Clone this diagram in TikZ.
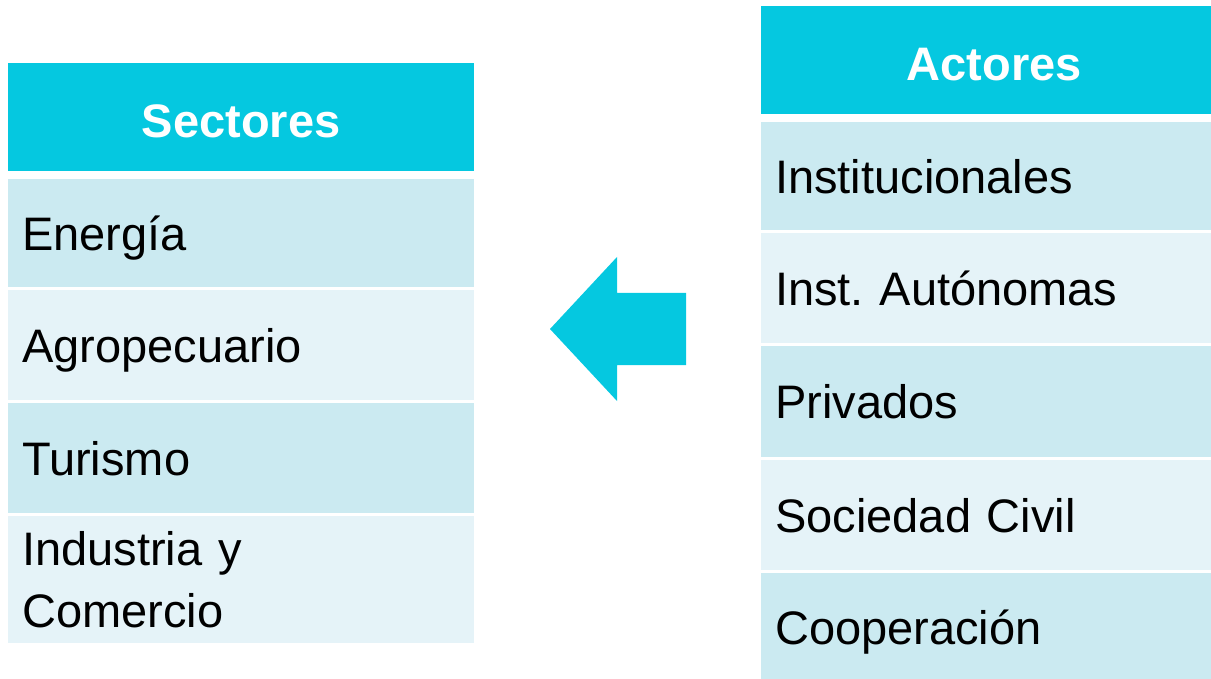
\documentclass[tikz,border=0pt]{standalone}
\usepackage{fontspec}
\setmainfont{Liberation Sans}
\usepackage{tikz}
\definecolor{cabeza}{RGB}{5,200,224}
\definecolor{filaosc}{RGB}{203,234,241}
\definecolor{filacla}{RGB}{229,243,248}
\frenchspacing

\begin{document}
\begin{tikzpicture}[x=1pt, y=-1pt,
    cab/.style={fill=cabeza,text=white,font=\fontsize{47}{61}\selectfont\bfseries,anchor=north west,
      minimum width=466pt,minimum height=108pt,inner sep=0pt,text height=40pt,text depth=0pt},
    fila/.style={fill=#1,font=\fontsize{47}{61}\selectfont,anchor=north west,minimum width=466pt,
      minimum height=110pt,text width=438pt,inner xsep=14pt,inner ysep=0pt,align=left,
      text height=34pt,text depth=0pt},
    fila2/.style={fill=#1,font=\fontsize{47}{62}\selectfont,anchor=north west,minimum width=466pt,
      minimum height=127pt,text width=438pt,inner xsep=14pt,inner ysep=0pt,align=left}]
              \useasboundingbox (0,0) rectangle (1211,679);
              % sectores
              \node[cab] (sec) at (8,63) {Sectores};
              \node[fila=filaosc,minimum height=108pt] (s1) at (8,179) {Energía};
              \node[fila=filacla] (s2) at (8,290) {Agropecuario};
              \node[fila=filaosc] (s3) at (8,403) {Turismo};
              \node[fila2=filacla] (s4) at (8,516) {Industria y\\Comercio};

              % actores
              \node[cab] (act) at (761,6) {Actores};
              \node[fila=filaosc,minimum height=108pt] (a1) at (761,122) {Institucionales};
              \node[fila=filacla] (a2) at (761,233) {Inst. Autónomas};
              \node[fila=filaosc,minimum height=111pt] (a3) at (761,346) {Privados};
              \node[fila=filacla] (a4) at (761,460) {Sociedad Civil};
              \node[fila=filaosc,minimum height=108pt] (a5) at (761,573) {Cooperación};

              % flecha
              \fill[cabeza] (550,329) -- (617,257) -- (617,293) -- (686,293) -- (686,365)
                -- (617,365) -- (617,401) -- cycle;
            \end{tikzpicture}
\end{document}
